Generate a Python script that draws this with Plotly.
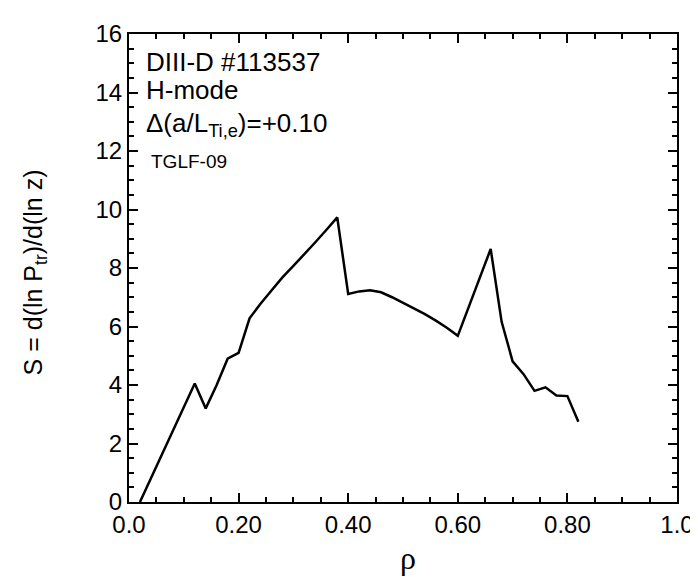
import plotly.graph_objects as go

rho = [0.02, 0.12, 0.14, 0.16, 0.18, 0.20, 0.22, 0.24, 0.26, 0.28, 0.30, 0.32, 0.34, 0.36, 0.38,
       0.40, 0.42, 0.44, 0.46, 0.48, 0.50, 0.52, 0.54, 0.56, 0.58, 0.60,
       0.66, 0.68, 0.70, 0.72, 0.74, 0.76, 0.78, 0.80, 0.82]
S = [0.0, 4.05, 3.2, 4.0, 4.9, 5.1, 6.28, 6.78, 7.23, 7.68, 8.07, 8.46, 8.88, 9.30, 9.73,
     7.11, 7.2, 7.24, 7.17, 7.0, 6.81, 6.62, 6.42, 6.2, 5.96, 5.68,
     8.65, 6.16, 4.81, 4.37, 3.80, 3.92, 3.64, 3.62, 2.74]

x_tickvals = [0.0, 0.2, 0.4, 0.6, 0.8, 1.0]
x_ticktext = ["0.0", "0.20", "0.40", "0.60", "0.80", "1.0"]
y_tickvals = [0, 2, 4, 6, 8, 10, 12, 14, 16]

FONT = "Liberation Sans, Arial, sans-serif"

fig = go.Figure()
fig.add_trace(go.Scatter(x=rho, y=S, mode="lines",
                         line=dict(color="black", width=2.5),
                         showlegend=False, hoverinfo="skip"))

axis_common = dict(
    showgrid=False, zeroline=False, showline=True, linecolor="black", linewidth=2,
    mirror="allticks", ticks="inside", ticklen=9, tickwidth=1.5, tickcolor="black",
    tickfont=dict(family=FONT, size=24, color="black"),
)

fig.update_xaxes(range=[0, 1], tickvals=x_tickvals, ticktext=x_ticktext,
                 minor=dict(dtick=0.05, ticks="inside", ticklen=5, tickwidth=1.5, tickcolor="black"),
                 **axis_common)
fig.update_yaxes(range=[0, 16], tickvals=y_tickvals,
                 minor=dict(dtick=0.5, ticks="inside", ticklen=5, tickwidth=1.5, tickcolor="black"),
                 **axis_common)

ann = [
    dict(text="DIII-D #113537", x=0.027, y=15.05, xref="x", yref="y", xanchor="left", yanchor="middle",
         showarrow=False, font=dict(family=FONT, size=26, color="black")),
    dict(text="H-mode", x=0.027, y=14.1, xref="x", yref="y", xanchor="left", yanchor="middle",
         showarrow=False, font=dict(family=FONT, size=26, color="black")),
    dict(text="Δ(a/L<sub>Ti,e</sub>)=+0.10", x=0.027, y=12.9, xref="x", yref="y", xanchor="left", yanchor="middle",
         showarrow=False, font=dict(family=FONT, size=26, color="black")),
    dict(text="TGLF-09", x=0.037, y=11.65, xref="x", yref="y", xanchor="left", yanchor="middle",
         showarrow=False, font=dict(family=FONT, size=19, color="black")),
    dict(text="S = d(ln P<sub>tr</sub>)/d(ln z)", x=-0.172, y=0.49, xref="paper", yref="paper",
         xanchor="center", yanchor="middle", textangle=-90,
         showarrow=False, font=dict(family=FONT, size=25, color="black")),
    dict(text="ρ", x=0.51, y=-0.12, xref="paper", yref="paper",
         xanchor="center", yanchor="middle",
         showarrow=False, font=dict(family="Liberation Serif, Times New Roman, serif", size=32, color="black")),
]
fig.update_layout(
    width=698, height=577,
    margin=dict(l=121, r=19, t=16, b=83),
    paper_bgcolor="white", plot_bgcolor="white",
    annotations=ann,
)

fig.write_html("out.html")
